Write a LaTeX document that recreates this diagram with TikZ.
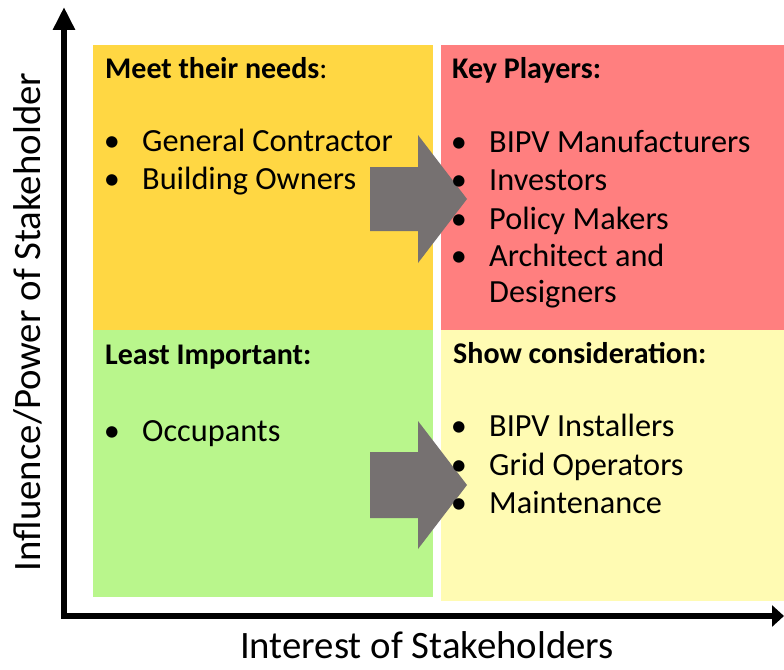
\documentclass[tikz,border=0pt]{standalone}
\usepackage{fontspec}
\setmainfont{Carlito}
\usetikzlibrary{arrows.meta}
\definecolor{qyellow}{HTML}{FFD743}
\definecolor{qred}{HTML}{FF7F7F}
\definecolor{qgreen}{HTML}{B9F68C}
\definecolor{qlight}{HTML}{FFFBB3}
\definecolor{qgray}{HTML}{767171}
\tikzset{
  ttl/.style={anchor=base west,inner sep=0pt,font=\fontsize{30}{34}\selectfont\bfseries},
  itm/.style={anchor=base west,inner sep=0pt,font=\fontsize{32.3}{36}\selectfont},
  bul/.style={anchor=base,inner sep=0pt,font=\fontsize{32.3}{36}\selectfont},
  axlab/.style={anchor=base,inner sep=0pt,font=\fontsize{38.8}{44}\selectfont},
  bigarrow/.style={fill=qgray},
  axis/.style={line width=6pt,line join=miter}
}
\begin{document}
\begin{tikzpicture}[x=1pt,y=-1pt]
\useasboundingbox (0,0) rectangle (784,669);
% quadrants
\fill[qyellow] (93,45) rectangle (433,329.5);
\fill[qred] (441,45) rectangle (784,329.5);
\fill[qgreen] (93,329.5) rectangle (433,597);
\fill[qlight] (441,329.5) rectangle (784,601);
% axes
\coordinate (top) at (64,7);
\coordinate (origin) at (64,616);
\coordinate (right) at (784,616);
\draw[axis,-{Triangle[length=23pt,width=21pt]}] (origin) -- (top);
\draw[axis,-{Triangle[length=12pt,width=21pt]}] (61,616) -- (right);
% block arrows
\fill[bigarrow] (370,167) -- (418,167) -- (418,135) -- (467,199) -- (418,263) -- (418,231) -- (370,231) -- cycle;
\fill[bigarrow] (370,452) -- (418,452) -- (418,421) -- (467,485) -- (418,549) -- (418,518) -- (370,518) -- cycle;
% axis labels
\node[axlab] (xlab) at (427,658) {Interest of Stakeholders};
\node[axlab,rotate=90] (ylab) at (40,322) {Influence/Power of Stakeholder};
% top-left
\node[ttl] (t1) at (105,78) {Meet their needs\mdseries:};
\node[bul] (b11) at (112,151.7) {•};
\node[itm] (i11) at (142,151.7) {General Contractor};
\node[bul] (b12) at (112,189.5) {•};
\node[itm] (i12) at (142,189.5) {Building Owners};
% top-right
\node[ttl] (t2) at (452,78) {Key Players:};
\node[bul] (b21) at (459,152.7) {•};
\node[itm] (i21) at (489,152.7) {BIPV Manufacturers};
\node[bul] (b22) at (459,190.7) {•};
\node[itm] (i22) at (489,190.7) {Investors};
\node[bul] (b23) at (459,229.5) {•};
\node[itm] (i23) at (489,229.5) {Policy Makers};
\node[bul] (b24) at (459,266.5) {•};
\node[itm] (i24) at (489,266.5) {Architect and};
\node[itm] (i25) at (489,302) {Designers};
% bottom-left
\node[ttl] (t3) at (105,364) {Least Important:};
\node[bul] (b31) at (112,441) {•};
\node[itm] (i31) at (142,441) {Occupants};
% bottom-right
\node[ttl] (t4) at (453,363.5) {Show consideration:};
\node[bul] (b41) at (459,436) {•};
\node[itm] (i41) at (489,436) {BIPV Installers};
\node[bul] (b42) at (459,475) {•};
\node[itm] (i42) at (489,475) {Grid Operators};
\node[bul] (b43) at (459,513.3) {•};
\node[itm] (i43) at (489,513.3) {Maintenance};
\end{tikzpicture}
\end{document}
